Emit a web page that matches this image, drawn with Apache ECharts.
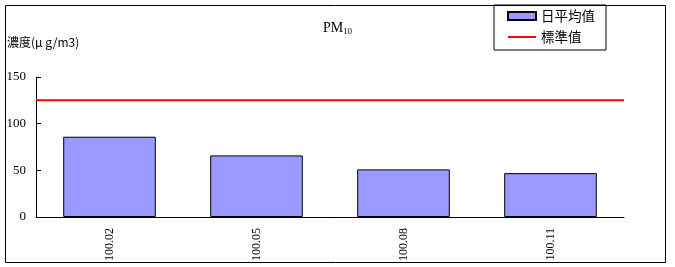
<!DOCTYPE html>
<html>
<head>
<meta charset="utf-8">
<script src="https://cdn.jsdelivr.net/npm/echarts@6/dist/echarts.min.js"></script>
<style>
  html, body { margin: 0; padding: 0; background: #fff; }
  #chart-box { width: 675px; height: 267px; }
</style>
</head>
<body>
<div id="chart-box"></div>
<script>
// data
const categories = ['100.02', '100.05', '100.08', '100.11']
const dailyMean = [86, 66, 51, 47]
const standard = [125, 125, 125, 125]
const yTicks = { min: 0, max: 150, interval: 50 }

const serif = '"Liberation Serif", "Times New Roman", serif'
const cjk = '"Noto Sans CJK TC", "Noto Sans CJK SC", sans-serif'

const options = {
  animation: false,
  backgroundColor: '#fff',
  title: {
    text: 'PM{sub|10}',
    left: 'center',
    top: 16,
    textStyle: {
      fontFamily: serif,
      fontSize: 14,
      fontWeight: 'normal',
      color: '#000',
      rich: {
        sub: { fontFamily: serif, fontSize: 9, color: '#000', verticalAlign: 'bottom', padding: [6, 0, 0, 0] }
      }
    }
  },
  legend: {
    orient: 'vertical',
    left: 494,
    top: 5,
    padding: [4, 11, 6, 13],
    itemGap: 7,
    itemWidth: 28,
    itemHeight: 8,
    borderColor: '#000',
    borderWidth: 1,
    borderRadius: 0,
    textStyle: { fontFamily: cjk, fontSize: 13.5, lineHeight: 14, color: '#000' },
    data: [
      { name: '日平均值', icon: 'rect' },
      { name: '標準值', icon: 'path://M0,0 L28,0 L28,2 L0,2 Z' }
    ]
  },
  grid: { left: 36, right: 51, top: 77, bottom: 50 },
  xAxis: [
    {
      type: 'category',
      data: categories,
      axisLine: { lineStyle: { color: '#000', width: 1 } },
      axisTick: { inside: true, length: 4, lineStyle: { color: '#000' } },
      axisLabel: { rotate: 90, margin: 11, fontFamily: serif, fontSize: 12, color: '#000' }
    },
    {
      type: 'category',
      data: categories,
      boundaryGap: false,
      show: false
    }
  ],
  yAxis: {
    type: 'value',
    min: yTicks.min,
    max: yTicks.max,
    interval: yTicks.interval,
    splitLine: { show: false },
    axisLine: { show: true, lineStyle: { color: '#000', width: 1 } },
    axisTick: { show: true, inside: true, length: 5, lineStyle: { color: '#000' } },
    axisLabel: { margin: 10, fontFamily: serif, fontSize: 13, color: '#000' }
  },
  graphic: [
    {
      type: 'rect',
      shape: { x: 5.5, y: 5.5, width: 660, height: 257 },
      style: { fill: 'none', stroke: '#000', lineWidth: 1 },
      silent: true,
      z: -1
    },
    {
      type: 'text',
      left: 7,
      top: 36,
      style: { text: '濃度(μ g/m3)', font: '12px ' + cjk, fill: '#000' }
    }
  ],
  series: [
    {
      name: '日平均值',
      type: 'bar',
      data: dailyMean,
      barCategoryGap: '37%',
      itemStyle: { color: '#9999FF', borderColor: '#000', borderWidth: 1 }
    },
    {
      name: '標準值',
      type: 'line',
      xAxisIndex: 1,
      data: standard,
      symbol: 'none',
      lineStyle: { color: '#FF0000', width: 2 },
      itemStyle: { color: '#FF0000' }
    }
  ]
}

const myChart = echarts.init(document.getElementById('chart-box'))
myChart.setOption(options)
</script>
</body>
</html>
